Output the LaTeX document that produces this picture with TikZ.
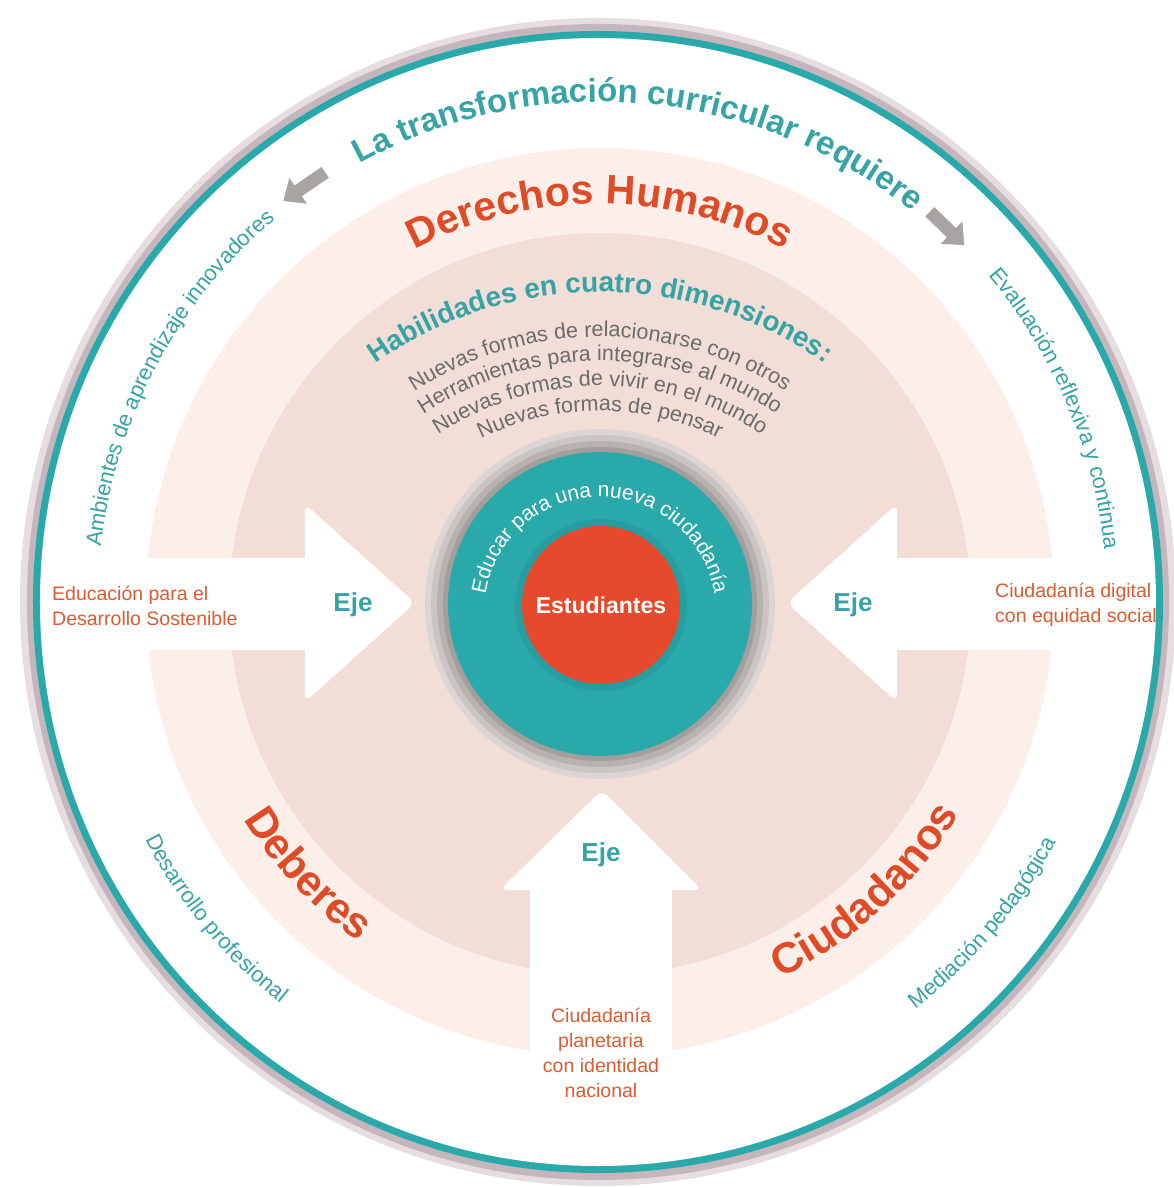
\documentclass[tikz,border=0pt]{standalone}
\usepackage{fontspec}
\setmainfont{Liberation Sans}
\usetikzlibrary{decorations.text,arrows.meta}

\definecolor{teal1}{HTML}{2AA9AA}
\definecolor{tealdark}{HTML}{279FA0}
\definecolor{tealtxt}{HTML}{36A3A5}
\definecolor{orange1}{HTML}{E6492B}
\definecolor{orangetxt}{HTML}{DF5A30}
\definecolor{orangebig}{HTML}{E04B27}
\definecolor{palepink}{HTML}{FCEFEA}
\definecolor{darkpink}{HTML}{F2DED6}
\definecolor{graytxt}{HTML}{6B6B6B}
\definecolor{arrowgray}{HTML}{A8A4A2}
\definecolor{ringmid}{HTML}{C4B6BC}
\definecolor{ringout}{HTML}{E6DDE0}
\definecolor{haloA}{HTML}{DBD6D3}
\definecolor{haloB}{HTML}{CAC5C2}
\definecolor{haloC}{HTML}{B7B2AF}
\definecolor{haloD}{HTML}{A39F9C}

\newcommand\fsz[2]{\fontsize{#1}{#2}\selectfont}

\tikzset{
  ejehead/.style={fill=white,rounded corners=8pt},
  ejeshaft/.style={fill=white},
  ejelabel/.style={text=tealtxt,font=\bfseries\fsz{26}{30},inner sep=0pt},
  axistext/.style={text=orangetxt,font=\fsz{19.5}{25},inner sep=0pt},
  tanarrow/.style={draw=arrowgray,line width=13pt,-{Triangle[length=18pt,width=30pt]}},
  curved/.style={decorate,decoration={text along path,text align=center,text={#1}}}
}

\begin{document}
\begin{tikzpicture}[x=1pt,y=1pt]
\useasboundingbox (-600,-586) rectangle (574,602);

% outer ring
\fill[ringout] (-2,0) ellipse [x radius=578,y radius=584];
\fill[ringmid] (-2,0) ellipse [x radius=571,y radius=578];
\fill[teal1] (-2,0) ellipse [x radius=565,y radius=571];
\fill[white] (-2,0) ellipse [x radius=558,y radius=564];

% rings
\fill[palepink] (0,0) circle (454);
\fill[darkpink] (0,-2) circle (371);

% the three axes
\fill[ejeshaft] (-520,44) rectangle (-294,-48);
\fill[ejehead] (-295,98) -- (-185,-1) -- (-295,-100) -- cycle;
\fill[ejeshaft] (520,44) rectangle (296,-48);
\fill[ejehead] (297,98) -- (187,-1) -- (297,-100) -- cycle;
\fill[ejeshaft] (-70,-540) rectangle (72,-287);
\fill[ejehead] (-100,-288) -- (2,-188) -- (102,-288) -- cycle;

% centre
\fill[haloA] (0,-2) circle (175);
\fill[haloB] (0,-2) circle (169);
\fill[haloC] (0,-2) circle (163);
\fill[haloD] (0,-2) circle (157);
\fill[teal1] (0,-2) circle (152);
\fill[tealdark] (1,-3) circle (86);
\node[circle,fill=orange1,minimum size=158pt,inner sep=0pt,text=white,
  font=\bfseries\fsz{23}{27}] (estud) at (1,-3) {Estudiantes};

\path[curved={|\fsz{21}{21}\color{white}|Educar para una nueva ciudadanía}]
  (0,-11) ++(185:116) arc[start angle=185,end angle=-5,radius=116];

% labels of the axes
\node[ejelabel] (ejeL) at (-247,-3) {Eje};
\node[ejelabel] (ejeR) at (253,-3) {Eje};
\node[ejelabel] (ejeB) at (1,-253) {Eje};
\node[axistext,anchor=west,align=left] (edsost) at (-548,-4)
  {Educación para el\\Desarrollo Sostenible};
\node[axistext,anchor=west,align=left] (ciudig) at (395,-3)
  {Ciudadanía digital\\con equidad social};
\node[axistext,align=center] (ciuplan) at (1,-451)
  {Ciudadanía\\planetaria\\con identidad\\nacional};

% habilidades
\path[curved={|\bfseries\fsz{28}{28}\color{tealtxt}|Habilidades en cuatro dimensiones:}]
  (0,-78) ++(160:388) arc[start angle=160,end angle=20,radius=388];
\path[curved={|\fsz{21.5}{21.5}\color{graytxt}|Nuevas formas de relacionarse con otros}]
  (0,-78) ++(160:343) arc[start angle=160,end angle=20,radius=343];
\path[curved={|\fsz{21.5}{21.5}\color{graytxt}|Herramientas para integrarse al mundo}]
  (0,-78) ++(160:319) arc[start angle=160,end angle=20,radius=319];
\path[curved={|\fsz{21.5}{21.5}\color{graytxt}|Nuevas formas de vivir en el mundo}]
  (0,-78) ++(160:294) arc[start angle=160,end angle=20,radius=294];
\path[curved={|\fsz{21.5}{21.5}\color{graytxt}|Nuevas formas de pensar}]
  (0,-78) ++(160:269) arc[start angle=160,end angle=20,radius=269];

% big words
\path[curved={|\bfseries\fsz{41}{41}\color{orangebig}|Derechos Humanos}]
  (160:398) arc[start angle=160,end angle=20,radius=398];
\path[curved={|\bfseries\fsz{43}{43}\color{orangebig}|Deberes}]
  (193:417) arc[start angle=193,end angle=253,radius=417];
\path[curved={|\bfseries\fsz{43}{43}\color{orangebig}|Ciudadanos}]
  (272:417) arc[start angle=272,end angle=353,radius=417];

% white ring
\path[curved={|\bfseries\fsz{33}{33}\color{tealtxt}|La transformación curricular requiere}]
  (150:500) arc[start angle=150,end angle=20,radius=500];
\path[curved={|\fsz{22}{22}\color{tealtxt}|Ambientes de aprendizaje innovadores}]
  (200:502) arc[start angle=200,end angle=104,radius=502];
\path[curved={|\fsz{22}{22}\color{tealtxt}|Evaluación reflexiva y continua}]
  (70:507) arc[start angle=70,end angle=-24,radius=507];
\path[curved={|\fsz{22}{22}\color{tealtxt}|Desarrollo profesional}]
  (190:513) arc[start angle=190,end angle=249,radius=513];
\path[curved={|\fsz{22}{22}\color{tealtxt}|Mediación pedagógica}]
  (290:515) arc[start angle=290,end angle=350,radius=515];

% gray arrows
\coordinate (grLs) at (122.6:510);
\coordinate (grLe) at (128.3:511);
\coordinate (grRs) at (49.8:511);
\coordinate (grRe) at (44.4:510);
\draw[tanarrow] (grLs) -- (grLe);
\draw[tanarrow] (grRs) -- (grRe);
\end{tikzpicture}
\end{document}
